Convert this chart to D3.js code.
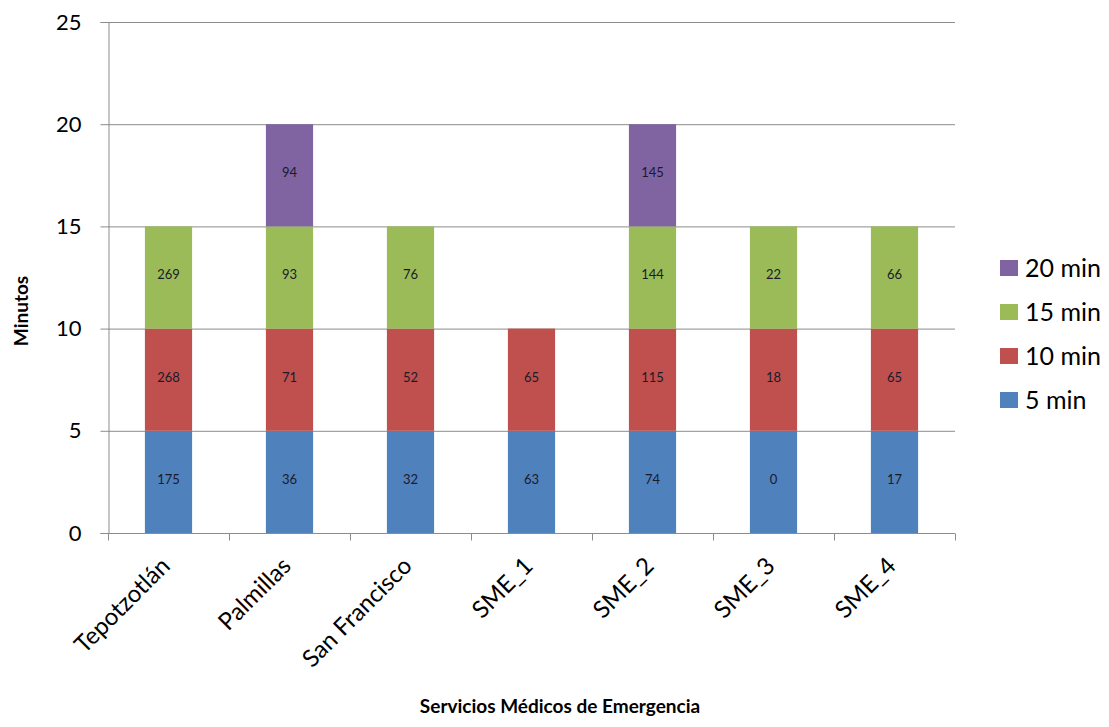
<!DOCTYPE html>
<html>
<head>
<meta charset="utf-8">
<script src="https://cdn.jsdelivr.net/npm/d3@7"></script>
<style>
  body { margin: 0; background: #fff; }
  svg { font-family: Lato, "Open Sans", sans-serif; }
</style>
</head>
<body>
<div id="chart"></div>
<script>
// DATA
const categories = ["Tepotzotlán", "Palmillas", "San Francisco", "SME_1", "SME_2", "SME_3", "SME_4"];
const seriesNames = ["5 min", "10 min", "15 min", "20 min"];
// minutes per segment (null = no segment)
const min5 = [5, 5, 5, 5, 5, 5, 5];
const min10 = [5, 5, 5, 5, 5, 5, 5];
const min15 = [5, 5, 5, null, 5, 5, 5];
const min20 = [null, 5, null, null, 5, null, null];
// counts shown inside each segment
const count5 = [175, 36, 32, 63, 74, 0, 17];
const count10 = [268, 71, 52, 65, 115, 18, 65];
const count15 = [269, 93, 76, null, 144, 22, 66];
const count20 = [null, 94, null, null, 145, null, null];
const yTicks = [0, 5, 10, 15, 20, 25];

const colors = ["#4F81BD", "#C0504D", "#9BBB59", "#8064A2"];
const values = [min5, min10, min15, min20];
const counts = [count5, count10, count15, count20];

// DIMENSIONS
const width = 1109, height = 727;
const plotLeft = 108, plotRight = 955, plotTop = 22, plotBottom = 533;

const svg = d3.select("#chart").append("svg")
    .attr("width", width)
    .attr("height", height);

const x = d3.scaleBand()
    .domain(categories)
    .range([plotLeft, plotRight])
    .paddingInner(0.61)
    .paddingOuter(0.305);

const y = d3.scaleLinear()
    .domain([0, 25])
    .range([plotBottom, plotTop]);

// gridlines
svg.append("g")
    .attr("stroke", "#8c8c8c")
  .selectAll()
  .data(yTicks.filter(d => d > 0))
  .join("line")
    .attr("x1", plotLeft)
    .attr("x2", plotRight)
    .attr("y1", d => y(d) + 0.5)
    .attr("y2", d => y(d) + 0.5);

// stacked segments
const rows = [];
categories.forEach((c, i) => {
  let base = 0;
  values.forEach((s, k) => {
    if (s[i] == null) return;
    rows.push({ cat: c, k, y0: base, y1: base + s[i], count: counts[k][i] });
    base += s[i];
  });
});

svg.append("g")
  .selectAll()
  .data(rows)
  .join("rect")
    .attr("x", d => x(d.cat))
    .attr("width", x.bandwidth())
    .attr("y", d => y(d.y1))
    .attr("height", d => y(d.y0) - y(d.y1))
    .attr("fill", d => colors[d.k]);

svg.append("g")
    .attr("fill", "#1a1a2a")
    .attr("font-size", 13)
    .attr("text-anchor", "middle")
  .selectAll()
  .data(rows)
  .join("text")
    .attr("x", d => x(d.cat) + x.bandwidth() / 2)
    .attr("y", d => y((d.y0 + d.y1) / 2))
    .attr("dy", "0.15em")
    .text(d => d.count);

// y axis
const yAxis = svg.append("g")
    .attr("transform", `translate(${plotLeft + 0.5},0)`)
    .call(d3.axisLeft(y).tickValues(yTicks).tickSize(8).tickPadding(19));
yAxis.select(".domain").attr("stroke", "#8c8c8c");
yAxis.selectAll(".tick line").attr("stroke", "#8c8c8c");
yAxis.selectAll(".tick text")
    .attr("font-size", 22)
    .attr("font-family", "Lato, sans-serif")
    .attr("fill", "#000");

// x axis with ticks at band edges
const xAxisG = svg.append("g").attr("transform", `translate(0,${plotBottom + 0.5})`);
xAxisG.append("line")
    .attr("x1", plotLeft).attr("x2", plotRight)
    .attr("stroke", "#8c8c8c");
const step = x.step();
xAxisG.selectAll(".edge")
  .data(d3.range(categories.length + 1))
  .join("line")
    .attr("class", "edge")
    .attr("x1", i => Math.round(plotLeft + i * step) + 0.5)
    .attr("x2", i => Math.round(plotLeft + i * step) + 0.5)
    .attr("y1", 0)
    .attr("y2", 7)
    .attr("stroke", "#8c8c8c");

xAxisG.selectAll(".lab")
  .data(categories)
  .join("text")
    .attr("class", "lab")
    .attr("font-size", 24)
    .attr("text-anchor", "end")
    .attr("transform", d => `translate(${x(d) + x.bandwidth() / 2 - 3},${28}) rotate(-45)`)
    .attr("dy", "0.35em")
    .text(d => d);

// axis titles
svg.append("text")
    .attr("font-size", 19)
    .attr("font-weight", "bold")
    .attr("text-anchor", "middle")
    .attr("transform", `translate(28,311) rotate(-90)`)
    .text("Minutos");

svg.append("text")
    .attr("font-size", 19)
    .attr("font-weight", "bold")
    .attr("text-anchor", "middle")
    .attr("x", 560)
    .attr("y", 713)
    .text("Servicios Médicos de Emergencia");

// legend (reversed order, top = 20 min)
const legend = svg.append("g")
  .selectAll()
  .data(seriesNames.map((n, k) => ({ n, k })).reverse())
  .join("g")
    .attr("transform", (d, i) => `translate(1000,${268 + i * 44})`);

legend.append("rect")
    .attr("x", 0).attr("y", -8)
    .attr("width", 18).attr("height", 16)
    .attr("fill", d => colors[d.k]);

legend.append("text")
    .attr("x", 25)
    .attr("dy", "0.35em")
    .attr("font-size", 25)
    .text(d => d.n);
</script>
</body>
</html>
